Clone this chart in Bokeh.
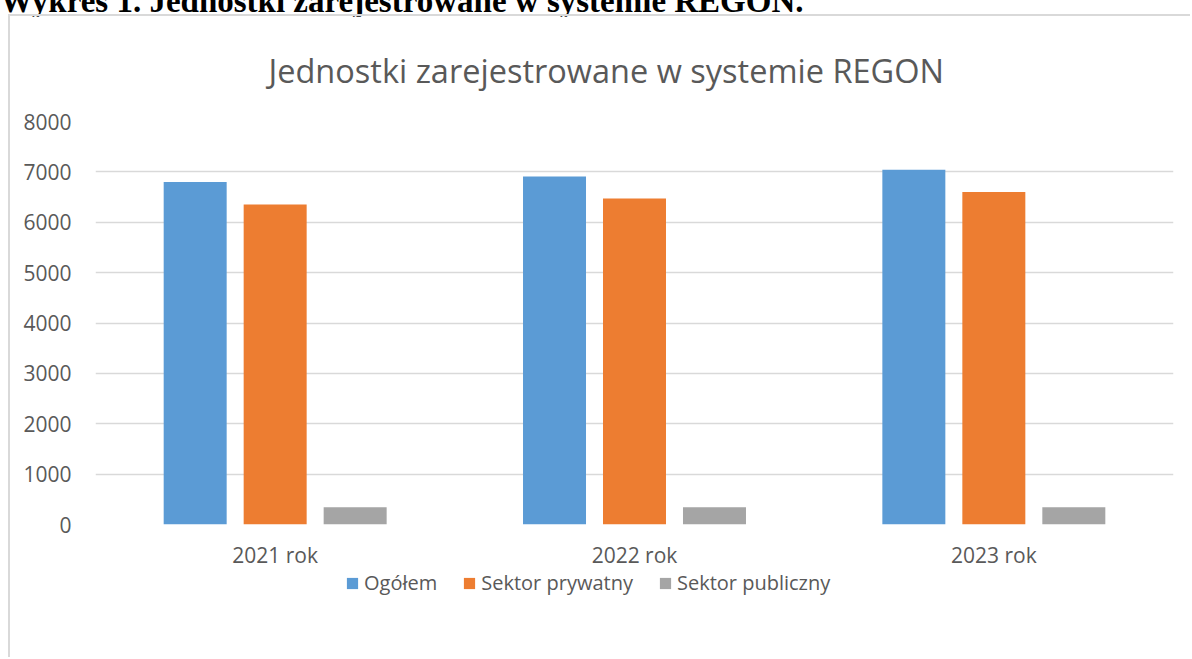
from bokeh.plotting import figure
from bokeh.models import Legend, LegendItem, FixedTicker, ColumnDataSource, Div, Range1d
from bokeh.layouts import column
from bokeh.transform import dodge
from bokeh.embed import file_html
from bokeh.resources import INLINE

years = ["2021 rok", "2022 rok", "2023 rok"]
series = ["Ogółem", "Sektor prywatny", "Sektor publiczny"]
ogolem = [6800, 6910, 7040]
prywatny = [6350, 6470, 6600]
publiczny = [340, 340, 340]
y_ticks = [0, 1000, 2000, 3000, 4000, 5000, 6000, 7000, 8000]
colors = ["#5B9BD5", "#ED7D31", "#A5A5A5"]

FONT = "Open Sans"
TXT = "#595959"
BORDER = "2px solid #D9D9D9"

src = ColumnDataSource(dict(years=years, ogolem=ogolem, prywatny=prywatny, publiczny=publiczny))
cols = ["ogolem", "prywatny", "publiczny"]
bw = 0.1753
off = 0.2226

# main chart
p = figure(x_range=years, y_range=(0, 8000), width=1182, height=555,
           output_backend="svg", toolbar_location=None,
           min_border_left=85, min_border_right=19, min_border_top=105, min_border_bottom=45)
p.margin = (0, 0, 0, 8)
p.styles = {"border-left": BORDER, "border-top": BORDER}
p.outline_line_color = None
p.background_fill_color = "white"
p.border_fill_color = "white"

p.title.text = "Jednostki zarejestrowane w systemie REGON"
p.title.align = "left"
p.title.offset = 173
p.title.vertical_align = "bottom"
p.title.standoff = 58
p.title.text_font = FONT
p.title.text_font_size = "32.5px"
p.title.text_font_style = "normal"
p.title.text_color = TXT

for i, (c, col) in enumerate(zip(cols, colors)):
    p.vbar(x=dodge("years", (i - 1) * off, range=p.x_range), top=c, width=bw, bottom=0,
           source=src, fill_color=col, line_color=None)

p.xgrid.grid_line_color = None
p.ygrid.grid_line_color = "#D9D9D9"
p.ygrid.grid_line_width = 1.5
p.yaxis.ticker = FixedTicker(ticks=y_ticks)

for ax in (p.xaxis[0], p.yaxis[0]):
    ax.axis_line_color = None
    ax.major_tick_line_color = None
    ax.minor_tick_line_color = None
    ax.major_tick_out = 0
    ax.major_tick_in = 0
    ax.major_label_text_font = FONT
    ax.major_label_text_font_size = "21px"
    ax.major_label_text_color = TXT
p.yaxis.major_label_standoff = 24
p.xaxis.major_label_standoff = 16

# legend strip (continues the chart box); its bar renderers are hidden, used only for swatches
lf = figure(width=1182, height=88, x_range=p.x_range, y_range=Range1d(-2, -1),
            output_backend="svg", toolbar_location=None,
            x_axis_type=None, y_axis_type=None, min_border=0)
lf.margin = (0, 0, 0, 8)
lf.styles = {"border-left": BORDER}
lf.outline_line_color = None
lf.xgrid.visible = False
lf.ygrid.visible = False
swatches = [lf.vbar(x=dodge("years", (i - 1) * off, range=lf.x_range), top=c, width=bw, bottom=0,
                    source=src, fill_color=col, line_color=None, visible=False)
            for i, (c, col) in enumerate(zip(cols, colors))]
legend = Legend(items=[LegendItem(label=s, renderers=[r]) for s, r in zip(series, swatches)],
                orientation="horizontal", location=(250, 61),
                glyph_width=14, glyph_height=14, label_standoff=5, spacing=25,
                padding=0, margin=0, border_line_alpha=0, background_fill_alpha=0,
                inactive_fill_alpha=0,
                label_text_font=FONT, label_text_font_size="20px", label_text_color=TXT)
lf.add_layout(legend, "center")

header = Div(text=("<div style=\"font-family:'Liberation Serif';font-weight:bold;font-size:33px;"
                   "line-height:33px;white-space:nowrap;margin-top:-28px;color:black\">"
                   "Wykres 1. Jednostki zarejestrowane w systemie REGON.</div>"),
             width=1192, height=14, margin=(0, 0, 0, 0))

layout = column(header, p, lf, spacing=0)
open("out.html", "w").write(file_html(layout, INLINE))
